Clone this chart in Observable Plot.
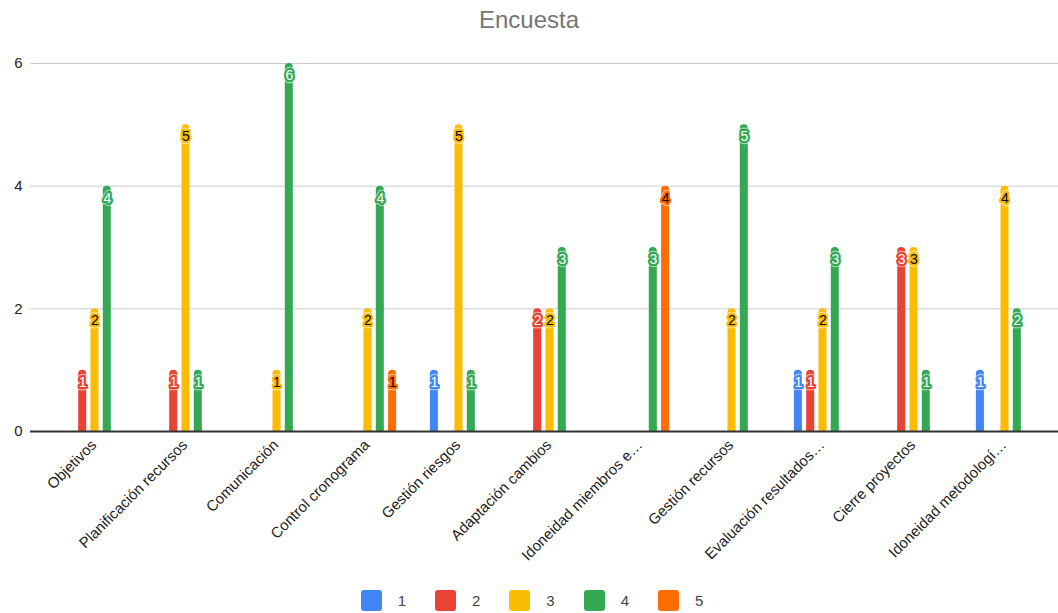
<!DOCTYPE html>
<html>
<head>
<meta charset="utf-8">
<script src="https://cdn.jsdelivr.net/npm/d3@7"></script>
<script src="https://cdn.jsdelivr.net/npm/@observablehq/plot@0.6"></script>
<style>
  body { margin: 0; background: #fff; font-family: "Liberation Sans", Arial, sans-serif; }
  #title { height: 40px; line-height: 40px; text-align: center; font-size: 24px; color: #757575; width: 1058px; }
  #legend { width: 1058px; height: 33px; display: flex; justify-content: center; align-items: flex-start; padding-top: 10px; padding-left: 6px; box-sizing: border-box; column-gap: 29px; }
  .item { display: flex; align-items: center; font-size: 15px; color: #444; }
  .sw { width: 21px; height: 21px; border-radius: 3px; margin-right: 16px; }
</style>
</head>
<body>
<div id="title">Encuesta</div>
<div id="chart"></div>
<div id="legend"></div>
<script>
const categories = [
  "Objetivos",
  "Planificación recursos",
  "Comunicación",
  "Control cronograma",
  "Gestión riesgos",
  "Adaptación cambios",
  "Idoneidad miembros e…",
  "Gestión recursos",
  "Evaluación resultados…",
  "Cierre proyectos",
  "Idoneidad metodologí…"
];
const seriesNames = ["1", "2", "3", "4", "5"];
const s1 = [0, 0, 0, 0, 1, 0, 0, 0, 1, 0, 1];
const s2 = [1, 1, 0, 0, 0, 2, 0, 0, 1, 3, 0];
const s3 = [2, 5, 1, 2, 5, 2, 0, 2, 2, 3, 4];
const s4 = [4, 1, 6, 4, 1, 3, 3, 5, 3, 1, 2];
const s5 = [0, 0, 0, 1, 0, 0, 4, 0, 0, 0, 0];
const yTicks = [0, 2, 4, 6];

const colors = ["#4285F4", "#EA4335", "#FBBC04", "#34A853", "#FF6D01"];
const labelFill = ["#ffffff", "#ffffff", "#000000", "#ffffff", "#000000"];
const seriesValues = [s1, s2, s3, s4, s5];

const rows = [];
seriesNames.forEach((s, i) => {
  categories.forEach((c, j) => rows.push({cat: c, series: s, si: i, value: seriesValues[i][j]}));
});

const xRange = [46.3, 1052.7];
const bw = (xRange[1] - xRange[0]) / categories.length;
const barW = 8.5, slot = 12.3;
const inset = (bw - barW) / 2;
const font = "'Liberation Sans', Arial, sans-serif";

const bars = [], labels = [];
seriesNames.forEach((s, i) => {
  const d = rows.filter(r => r.series === s && r.value > 0);
  const dx = (i - 2) * slot;
  bars.push(Plot.barY(d, {x: "cat", y: "value", fill: colors[i], insetLeft: inset, insetRight: inset, dx, rx: 4}));
  bars.push(Plot.barY(d, {x: "cat", y1: 0, y2: r => Math.min(r.value, 0.08), fill: colors[i], insetLeft: inset, insetRight: inset, dx}));
  labels.push(Plot.text(d, {x: "cat", y: "value", text: r => String(r.value), dx, dy: 12, fill: "none", stroke: "#ffffff", strokeOpacity: 0.6, strokeWidth: 6.5, strokeLinejoin: "round", fontSize: 14, fontFamily: font}));
  labels.push(Plot.text(d, {x: "cat", y: "value", text: r => String(r.value), dx, dy: 12, fill: labelFill[i], stroke: colors[i], strokeWidth: 4.5, strokeLinejoin: "round", paintOrder: "stroke", fontSize: 14, fontFamily: font}));
});

const chart = Plot.plot({
  width: 1058,
  height: 540,
  marginLeft: 30,
  marginRight: 0,
  marginTop: 23,
  marginBottom: 149,
  style: {fontFamily: font, fontSize: "15px", color: "#222", background: "#fff"},
  x: {type: "band", domain: categories, range: xRange, padding: 0},
  y: {domain: [0, 6]},
  marks: [
    Plot.ruleY(yTicks.filter(t => t > 0), {stroke: "#cccccc", strokeWidth: 1}),
    ...bars,
    ...labels,
    Plot.ruleY([0], {stroke: "#333333", strokeWidth: 2}),
    Plot.axisY({ticks: yTicks, tickFormat: d => String(d), tickSize: 0, tickPadding: 8, label: null, fontSize: 15, fill: "#222"}),
    Plot.axisX({tickSize: 0, tickPadding: 11, tickRotate: -45, label: null, dx: -1, fontSize: 15, fill: "#222"})
  ]
});
document.getElementById("chart").appendChild(chart);

const legend = document.getElementById("legend");
seriesNames.forEach((s, i) => {
  const item = document.createElement("div");
  item.className = "item";
  const sw = document.createElement("div");
  sw.className = "sw";
  sw.style.background = colors[i];
  const lab = document.createElement("span");
  lab.textContent = s;
  item.appendChild(sw);
  item.appendChild(lab);
  legend.appendChild(item);
});
</script>
</body>
</html>
